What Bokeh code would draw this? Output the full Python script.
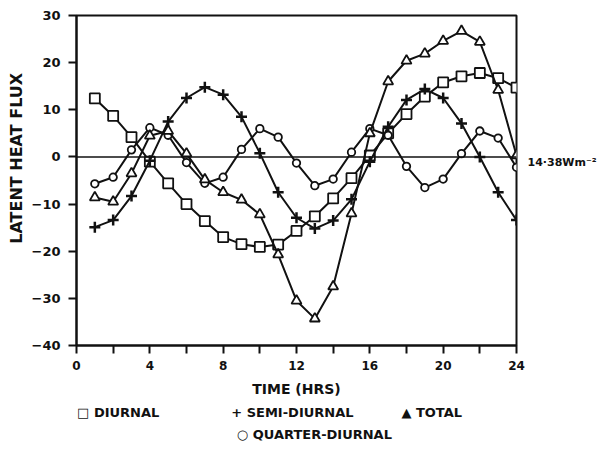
from bokeh.plotting import figure
from bokeh.models import FixedTicker, Span, Range1d, LinearAxis
from bokeh.embed import file_html
from bokeh.resources import INLINE

hours = list(range(1, 25))
diurnal = [12.4, 8.7, 4.2, -1.0, -5.6, -10.0, -13.6, -17.0, -18.5, -19.1, -18.6, -15.7,
           -12.6, -8.8, -4.5, 0.3, 5.0, 9.1, 12.8, 15.8, 17.1, 17.8, 16.7, 14.7]
semi_diurnal = [-14.9, -13.4, -8.3, -0.8, 7.5, 12.5, 14.8, 13.2, 8.5, 0.8, -7.5, -12.9,
                -15.2, -13.5, -9.0, -1.0, 6.4, 12.1, 14.4, 12.5, 7.1, 0.0, -7.5, -13.4]
quarter_diurnal = [-5.7, -4.3, 1.5, 6.2, 4.6, -1.2, -5.6, -4.3, 1.6, 6.0, 4.2, -1.3,
                   -6.1, -4.7, 1.0, 6.0, 4.6, -2.0, -6.5, -4.7, 0.7, 5.5, 4.0, -2.2]
total = [-8.6, -9.5, -3.5, 4.5, 5.5, 0.7, -4.8, -7.5, -9.1, -12.2, -20.7, -30.5,
         -34.3, -27.5, -12.0, 5.0, 16.0, 20.4, 21.9, 24.6, 26.7, 24.4, 14.2, 0.3]

x_major = [0, 4, 8, 12, 16, 20, 24]
x_minor = [2, 6, 10, 14, 18, 22]
y_ticks = [-40, -30, -20, -10, 0, 10, 20, 30]
mean_label = "14·38Wm⁻²"
legend_row1 = {2.4: "□  DIURNAL", 11.9: "+  SEMI-DIURNAL", 19.5: "▲  TOTAL"}
legend_row2 = {13.1: "○  QUARTER-DIURNAL"}

FONT = "DejaVu Sans"
INK = "#111111"

p = figure(width=599, height=446, output_backend="svg", toolbar_location=None,
           x_range=Range1d(0, 24), y_range=Range1d(-40, 30),
           min_border_left=76, min_border_right=83, min_border_top=15, min_border_bottom=101)
p.grid.visible = False
p.outline_line_color = INK
p.outline_line_width = 2
p.background_fill_color = "white"
p.border_fill_color = "white"


def style_text(ax, size="12px"):
    ax.major_label_text_font = FONT
    ax.major_label_text_font_style = "bold"
    ax.major_label_text_font_size = size
    ax.major_label_text_color = INK


def bare(ax):
    ax.axis_line_color = None
    ax.major_tick_line_color = None
    ax.minor_tick_line_color = None
    ax.major_tick_out = 0
    ax.major_tick_in = 0
    ax.minor_tick_out = 0
    ax.minor_tick_in = 0


# main x axis
xa = p.xaxis[0]
xa.ticker = FixedTicker(ticks=x_major, minor_ticks=x_minor)
xa.major_tick_out = 8
xa.major_tick_in = 0
xa.minor_tick_out = 8
xa.minor_tick_in = 0
xa.major_tick_line_width = 2
xa.minor_tick_line_width = 2
xa.axis_line_width = 2
xa.axis_line_color = INK
xa.major_tick_line_color = INK
xa.minor_tick_line_color = INK
style_text(xa)
xa.major_label_standoff = 7
xa.axis_label = "TIME (HRS)"
xa.axis_label_text_font = FONT
xa.axis_label_text_font_style = "bold"
xa.axis_label_text_font_size = "14px"
xa.axis_label_text_color = INK
xa.axis_label_standoff = 8

# main y axis
ya = p.yaxis[0]
ya.ticker = FixedTicker(ticks=y_ticks, minor_ticks=[])
ya.major_tick_out = 8
ya.major_tick_in = 0
ya.major_tick_line_width = 2
ya.axis_line_width = 2
ya.axis_line_color = INK
ya.major_tick_line_color = INK
style_text(ya, "13px")
ya.major_label_standoff = 8

# y title as an outer left axis label (centred where the reference has it)
yt = LinearAxis(ticker=FixedTicker(ticks=[-0.3], minor_ticks=[]),
                major_label_overrides={-0.3: "LATENT HEAT FLUX"},
                major_label_orientation="vertical")
bare(yt)
style_text(yt, "16px")
yt.major_label_standoff = 2
p.add_layout(yt, "left")

# mean value annotation on the right
ra = LinearAxis(ticker=FixedTicker(ticks=[-1.2], minor_ticks=[]),
                major_label_overrides={-1.2: mean_label})
bare(ra)
style_text(ra, "11px")
ra.major_label_standoff = 11
p.add_layout(ra, "right")

# legend rows below
l1 = LinearAxis(ticker=FixedTicker(ticks=list(legend_row1.keys()), minor_ticks=[]),
                major_label_overrides=legend_row1)
bare(l1)
style_text(l1, "13px")
l1.major_label_standoff = 5
p.add_layout(l1, "below")

l2 = LinearAxis(ticker=FixedTicker(ticks=list(legend_row2.keys()), minor_ticks=[]),
                major_label_overrides=legend_row2)
bare(l2)
style_text(l2, "13px")
l2.major_label_standoff = 4
p.add_layout(l2, "below")

# zero line
p.add_layout(Span(location=0, dimension="width", line_color=INK, line_width=1.6))

LW = 2
p.line(hours, diurnal, line_color=INK, line_width=LW)
p.scatter(hours, diurnal, marker="square", size=10, line_color=INK, line_width=1.8, fill_color="white")

p.line(hours, semi_diurnal, line_color=INK, line_width=LW)
p.scatter(hours, semi_diurnal, marker="cross", size=11, line_color=INK, line_width=2.5)

p.line(hours, quarter_diurnal, line_color=INK, line_width=LW)
p.scatter(hours, quarter_diurnal, marker="circle", size=7.5, line_color=INK, line_width=1.8, fill_color="white")

p.line(hours, total, line_color=INK, line_width=LW)
p.scatter(hours, total, marker="triangle", size=10, line_color=INK, line_width=1.8, fill_color="white")

open("out.html", "w").write(file_html(p, INLINE))
